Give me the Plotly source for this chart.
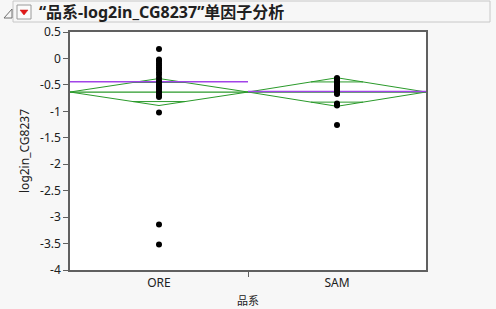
import plotly.graph_objects as go
import math

# ---- data ----
groups = ["ORE", "SAM"]
ore_values = [0.18, -0.02, -0.05, -0.09, -0.13, -0.17, -0.21, -0.26, -0.31, -0.37,
              -0.42, -0.46, -0.50, -0.54, -0.58, -0.62, -0.66, -0.70, -0.73, -1.02,
              -3.14, -3.52]
sam_values = [-0.37, -0.39, -0.42, -0.45, -0.48, -0.51, -0.54, -0.56, -0.58, -0.60,
              -0.61, -0.62, -0.63, -0.64, -0.66, -0.67, -0.85, -0.87, -0.89, -1.26]
group_means = [-0.635, -0.635]
group_ci_half = [0.255, 0.27]
group_medians = [-0.44, -0.625]
grand_mean = -0.635
y_ticks = [0.5, 0, -0.5, -1, -1.5, -2, -2.5, -3, -3.5, -4]
y_tick_text = ["0.5", "0", "-0.5", "-1", "-1.5", "-2", "-2.5", "-3", "-3.5", "-4"]

title_text = "“品系-log2in_CG8237”单因子分析"
x_title = "品系"
y_title = "log2in_CG8237"

GREEN = "#2a9a2a"
PURPLE = "#a244e8"
FONT = "Noto Sans, Noto Sans CJK SC, sans-serif"

fig = go.Figure()

centers = [0.5 + i for i in range(len(groups))]
all_values = [ore_values, sam_values]

fig.add_trace(go.Scatter(x=[0, len(groups)], y=[grand_mean, grand_mean], mode="lines",
                         line=dict(color=GREEN, width=1.2), hoverinfo="skip"))

for c, m, h, med in zip(centers, group_means, group_ci_half, group_medians):
    fig.add_trace(go.Scatter(x=[c - 0.5, c, c + 0.5, c, c - 0.5],
                             y=[m, m + h, m, m - h, m], mode="lines",
                             line=dict(color=GREEN, width=1), hoverinfo="skip"))
    d = h / math.sqrt(2)
    hw = 0.5 * (1 - d / h)
    for s in (1, -1):
        fig.add_trace(go.Scatter(x=[c - hw, c + hw], y=[m + s * d, m + s * d], mode="lines",
                                 line=dict(color=GREEN, width=1), hoverinfo="skip"))
    fig.add_trace(go.Scatter(x=[c - 0.5, c + 0.5], y=[med, med], mode="lines",
                             line=dict(color=PURPLE, width=1.6), hoverinfo="skip"))

for c, vals in zip(centers, all_values):
    fig.add_trace(go.Scatter(x=[c] * len(vals), y=vals, mode="markers",
                             marker=dict(color="black", size=6), hoverinfo="skip"))

L, R, T, B = 70, 70, 32, 39
W, H = 496, 309
pw, ph = W - L - R, H - T - B

def px(x):
    return (x - L) / pw

def py(y):
    return (H - B - y) / ph

shapes = [
    dict(type="rect", xref="paper", yref="paper", x0=px(13), x1=px(490), y0=py(22), y1=py(1),
         line=dict(color="#c8c8c8", width=1), fillcolor="rgba(0,0,0,0)"),
    dict(type="rect", xref="paper", yref="paper", x0=px(17), x1=px(31), y0=py(19), y1=py(5),
         line=dict(color="#9a9a9a", width=1), fillcolor="#fbfbfb"),
    dict(type="path", xref="paper", yref="paper",
         path=f"M {px(20)} {py(10)} L {px(28)} {py(10)} L {px(24)} {py(15)} Z",
         line=dict(color="#d01010", width=0.5), fillcolor="#e01818"),
    dict(type="path", xref="paper", yref="paper",
         path=f"M {px(4)} {py(18)} L {px(12)} {py(18)} L {px(12)} {py(9)} Z",
         line=dict(color="#707070", width=1), fillcolor="rgba(0,0,0,0)"),
]

fig.update_layout(
    width=W, height=H,
    margin=dict(l=L, r=R, t=T, b=B),
    paper_bgcolor="#f7f7f7", plot_bgcolor="white",
    showlegend=False,
    font=dict(family=FONT, size=11, color="#202020"),
    shapes=shapes,
    annotations=[dict(text=f"<b>{title_text}</b>", xref="paper", yref="paper",
                      x=px(37), y=py(12), xanchor="left", yanchor="middle",
                      showarrow=False, font=dict(size=16, color="#202020", family=FONT))],
)
fig.update_xaxes(range=[0, len(groups)], tickmode="array", tickvals=centers, ticktext=groups,
                 ticks="outside", ticklen=1, tickcolor="rgba(0,0,0,0)",
                 showgrid=False, zeroline=False, showline=True, linecolor="#606060",
                 linewidth=1.5, mirror=True, automargin=False,
                 minor=dict(tickmode="array", tickvals=[1], ticks="outside", ticklen=5,
                            tickcolor="#606060", tickwidth=1, showgrid=False),
                 title=dict(text=x_title, font=dict(size=11), standoff=7),
                 tickfont=dict(size=12))
fig.update_yaxes(range=[-4, 0.5], tickmode="array", tickvals=y_ticks, ticktext=y_tick_text,
                 ticks="outside", ticklen=5, tickcolor="#606060", showgrid=False,
                 zeroline=False, showline=True, linecolor="#606060", linewidth=1.5, mirror=True,
                 automargin=False,
                 title=dict(text=y_title, font=dict(size=12), standoff=8),
                 tickfont=dict(size=12))

fig.write_html("out.html")
